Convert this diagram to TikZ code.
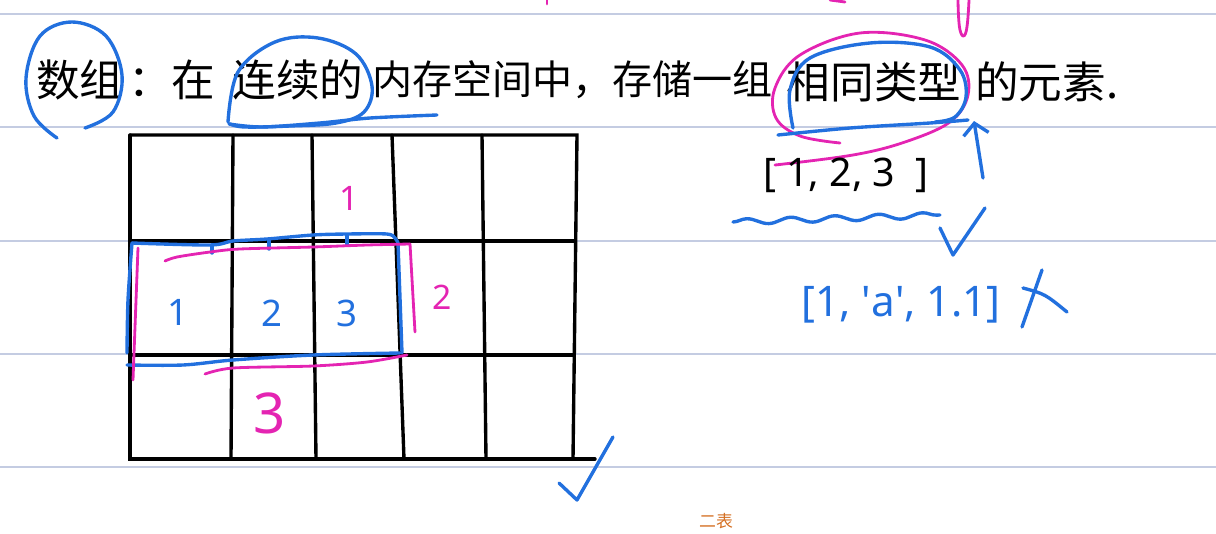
\documentclass[tikz,border=0pt]{standalone}
\usepackage{fontspec}
\setmainfont{Noto Sans}
\newfontfamily\cjkfont{Noto Sans CJK SC}
\usetikzlibrary{positioning,arrows.meta,decorations.pathmorphing}
\definecolor{penblue}{RGB}{34,112,222}
\definecolor{penpink}{RGB}{228,36,178}
\definecolor{penorange}{RGB}{212,112,36}
\definecolor{ruleline}{RGB}{196,204,226}
\tikzset{
  ruled/.style={line width=1.1pt, ruleline},
  gridline/.style={line width=2.4pt, black, line cap=round},
  bluepen/.style={line width=2.4pt, penblue, line cap=round, line join=round},
  pinkpen/.style={line width=2pt, penpink, line cap=round, line join=round},
  bluearrow/.style={bluepen, -{Straight Barb[length=8pt, width=18pt, line width=2.4pt]}},
  notetext/.style={font=\cjkfont\fontsize{31}{36}\selectfont, inner sep=0pt},
  listtext/.style={font=\fontsize{28}{32}\selectfont, inner sep=0pt},
  bluedigit/.style={font=\fontsize{26}{30}\selectfont, text=penblue, inner sep=0pt},
  pinkdigit/.style={font=\fontsize{24}{28}\selectfont, text=penpink, inner sep=0pt}
}
\begin{document}
\begin{tikzpicture}[x=0.025cm, y=-0.025cm, >=Latex]
  \useasboundingbox (0,0) rectangle (1216,533);
  \draw[ruled] (0,14) -- (1216,14);
  \draw[ruled] (0,127) -- (1216,127);
  \draw[ruled] (0,241) -- (1216,241);
  \draw[ruled] (0,354) -- (1216,354);
  \draw[ruled] (0,467) -- (1216,467);

  % definition line
  \node[notetext] (arr) at (80,80) {数组};
  \node[notetext, anchor=west] (colon) at (128,80) {：在};
  \node[notetext] (cont) at (298,80) {连续的};
  \node[notetext, font=\cjkfont\fontsize{28.5}{34}\selectfont, anchor=west] (mem) at (372,80) {内存空间中，存储一组};
  \node[notetext] (same) at (874,82) {相同类型};
  \node[notetext, anchor=west] (elem) at (975,82) {的元素.};

  \draw[bluepen] plot[smooth, tension=0.6] coordinates {(85,128) (113,112) (122,75) (106,36) (72,22) (40,36) (26,78) (34,116) (57,138)};
  \draw[bluepen] plot[smooth, tension=0.6] coordinates {(228,122) (238,72) (275,42) (318,38) (356,54) (372,86) (364,112) (336,123) (290,126) (245,127) (230,124)};
  \draw[bluepen] plot[smooth, tension=0.5] coordinates {(229,124) (262,127) (320,123) (370,118) (437,115)};
  \draw[pinkpen] plot[smooth, tension=0.6] coordinates {(840,143) (800,136) (776,118) (775,88) (800,55) (860,33) (925,40) (962,65) (968,95) (950,122) (905,142) (853,155) (775,165)};
  \draw[bluepen] plot[smooth, tension=0.6] coordinates {(793,128) (790,90) (810,58) (870,43) (930,47) (960,70) (966,97) (955,117) (935,122)};
  \draw[bluepen] plot[smooth, tension=0.5] coordinates {(778,135) (850,128) (930,123) (968,120)};
  \draw[pinkpen] plot[smooth, tension=0.8] coordinates {(958,0) (960,30) (966,32) (969,0)};
  \draw[pinkpen] (547,0) -- (547,4);
  \draw[pinkpen] (830,0) -- (845,2);

  % lists
  \node[listtext] (good) at (846,175) {[\ 1,\ 2,\ 3\ \ ]};
  \draw[bluepen, decorate, decoration={snake, segment length=1.1cm, amplitude=0.07cm}] (733,222) -- (940,215);
  \coordinate (chk) at (983,178);
  \coordinate (tip) at (974,121);
  \draw[bluearrow] (chk) -- (tip);
  \draw[bluepen] (940,228) -- (953,255) -- (985,208);
  \node[listtext, text=penblue, font=\fontsize{30}{34}\selectfont] (bad) at (901,305) {[1,\ \textquotesingle a\textquotesingle,\ 1.1]};
  \draw[bluepen] (1042,270) -- (1022,327);
  \draw[bluepen] (1023,288) .. controls (1045,294) .. (1067,312);

  % memory grid
  \draw[gridline] (130,135) -- (577,135) -- (573,459);
  \draw[gridline] (130,135) -- (130,459) -- (595,459);
  \draw[gridline] (130,241) -- (575,241);
  \draw[gridline] (130,355) -- (574,355);
  \draw[gridline] (233,135) -- (231,459);
  \draw[gridline] (312,135) -- (316,459);
  \draw[gridline] (392,135) -- (404,459);
  \draw[gridline] (482,135) -- (486,459);

  \node[bluedigit] (e1) at (178,312) {1};
  \node[bluedigit] (e2) at (272,313) {2};
  \node[bluedigit] (e3) at (347,313) {3};
  \node[pinkdigit] (p1) at (349,198) {1};
  \node[pinkdigit] (p2) at (442,297) {2};
  \node[pinkdigit, font=\fontsize{40}{44}\selectfont] (p3) at (270,413) {3};

  \draw[bluepen] plot[smooth, tension=0.5] coordinates {(127,353) (128,300) (132,243)};
  \draw[bluepen] plot[smooth, tension=0.5] coordinates {(132,243) (210,245) (233,241) (267,239) (313,235) (347,234) (387,234) (395,238) (398,243)};
  \draw[bluepen] (398,243) -- (402,353);
  \draw[bluepen] plot[smooth, tension=0.5] coordinates {(127,365) (183,365) (233,360) (313,355) (400,353)};
  \draw[bluepen] (212,245) -- (212,253);
  \draw[bluepen] (269,240) -- (269,249);
  \draw[bluepen] (347,235) -- (347,245);

  \draw[pinkpen] (138,248) -- (133,380);
  \draw[pinkpen] plot[smooth, tension=0.5] coordinates {(165,261) (177,257) (210,252) (240,249) (313,247) (367,245) (410,244)};
  \draw[pinkpen] (410,244) -- (415,332);
  \draw[pinkpen] plot[smooth, tension=0.5] coordinates {(205,374) (233,368) (313,366) (367,362) (407,355)};

  \draw[bluepen] (559,483) -- (577,500) -- (613,437);
  \node[font=\cjkfont\fontsize{12}{14}\selectfont, text=penorange, inner sep=0pt] (side) at (716,521) {二表};
\end{tikzpicture}
\end{document}
